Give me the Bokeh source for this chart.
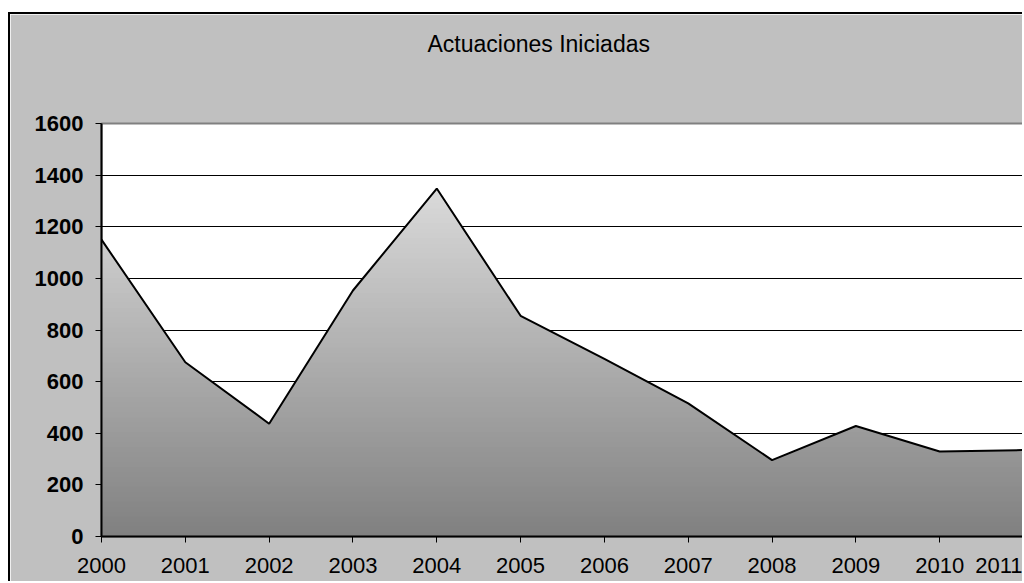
import numpy as np
from bokeh.plotting import figure
from bokeh.models import Range1d, FixedTicker, Title
from bokeh.embed import file_html
from bokeh.resources import INLINE

# Actuaciones iniciadas por año
years = [2000, 2001, 2002, 2003, 2004, 2005, 2006, 2007, 2008, 2009, 2010, 2011]
values = [1150, 675, 437, 953, 1348, 855, 688, 516, 296, 428, 329, 335]
y_ticks = [0, 200, 400, 600, 800, 1000, 1200, 1400, 1600]
title_text = "Actuaciones Iniciadas"

FONT = "Liberation Sans"

p = figure(
    width=1014, height=569, title=None,
    x_range=Range1d(years[0], years[-1]),
    y_range=Range1d(0, 1600),
    output_backend="svg", toolbar_location=None,
    min_border_left=91, min_border_right=1,
    min_border_top=109, min_border_bottom=47,
)
p.margin = (12, 0, 0, 8)
p.styles = {"border-top": "2px solid black", "border-left": "2px solid black"}

p.background_fill_color = "white"
p.border_fill_color = "#C0C0C0"
p.outline_line_color = "#808080"
p.outline_line_width = 2

# empty band between the title and the plot area, then the title above it
p.add_layout(Title(text=" ", text_font_size="58px", standoff=0), "above")
p.add_layout(Title(
    text=title_text, align="left", offset=326, standoff=0,
    text_font=FONT, text_font_size="23px", text_font_style="normal",
    text_color="black",
), "above")

# grid
p.xgrid.visible = False
p.ygrid.ticker = FixedTicker(ticks=y_ticks)
p.ygrid.grid_line_color = "black"
p.ygrid.grid_line_width = 1

# axes
for ax in (p.xaxis[0], p.yaxis[0]):
    ax.axis_line_color = "black"
    ax.axis_line_width = 2
    ax.major_tick_line_color = "black"
    ax.major_tick_in = 0
    ax.major_tick_out = 6
    ax.minor_tick_line_color = None
    ax.major_label_text_font = FONT
    ax.major_label_text_font_size = "22px"
    ax.major_label_text_color = "black"

p.xaxis.ticker = FixedTicker(ticks=years)
p.xaxis.major_label_standoff = 15
p.yaxis.ticker = FixedTicker(ticks=y_ticks)
p.yaxis.major_label_text_font_style = "bold"
p.yaxis.major_label_standoff = 12

# gradient fill under the line: stacked bands, each clipped by the line
xd = np.linspace(years[0], years[-1], 2201)
yd = np.interp(xd, years, values)
vmax = max(values)
n_bands = 70
edges = np.linspace(0, vmax, n_bands + 1)
dark, light = 128, 218
for k in range(n_bands, 0, -1):
    top = edges[k]
    mid = (edges[k] + edges[k - 1]) / 2
    g = int(round(dark + (light - dark) * mid / vmax))
    color = "#%02x%02x%02x" % (g, g, g)
    p.varea(x=xd, y1=0, y2=np.minimum(yd, top), fill_color=color)

p.line(years, values, line_color="black", line_width=2)

open("out.html", "w").write(file_html(p, INLINE))
